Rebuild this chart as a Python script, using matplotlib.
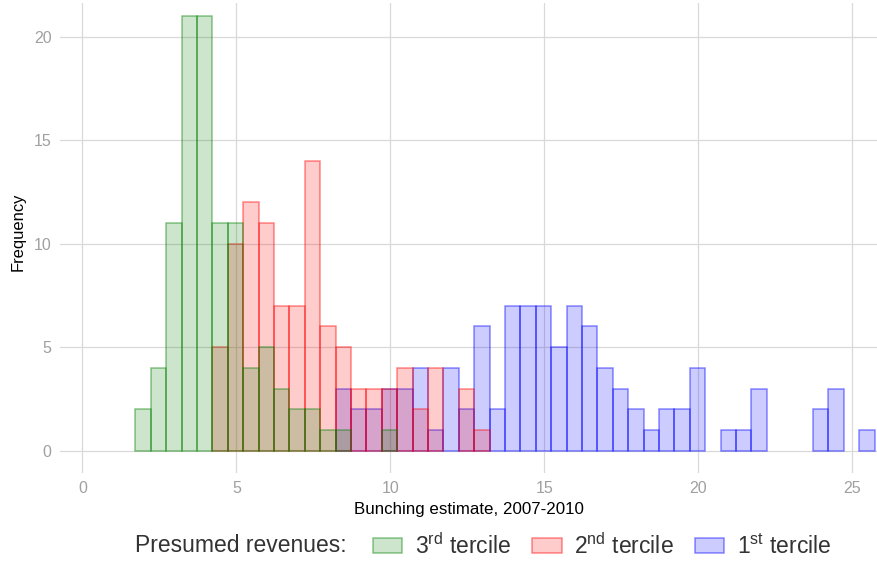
import numpy as np
import matplotlib
matplotlib.use('Agg')
import matplotlib.pyplot as plt
from matplotlib.patches import Patch
from matplotlib.colors import to_rgba

plt.rcParams['font.family'] = ['Liberation Sans', 'DejaVu Sans']
plt.rcParams['mathtext.fontset'] = 'custom'
plt.rcParams['mathtext.rm'] = 'Liberation Sans'

# histogram bins (width 0.5) and counts per bin for each tercile
bin_start = 1.72
bin_width = 0.5

# 3rd tercile (green), bins 0..16
counts_t3 = [2, 4, 11, 21, 21, 11, 11, 4, 5, 3, 2, 2, 1, 1, 0, 0, 1]
# 2nd tercile (red), bins 5..22
counts_t2 = [5, 10, 12, 11, 7, 7, 14, 6, 5, 3, 3, 3, 4, 2, 4, 0, 3, 1]
t2_first_bin = 5
# 1st tercile (blue), bins 13..47
counts_t1 = [3, 2, 2, 3, 3, 4, 1, 4, 2, 6, 2, 7, 7, 7, 5, 7, 6, 4, 3, 2,
             1, 2, 2, 4, 0, 1, 1, 3, 0, 0, 0, 2, 3, 0, 1]
t1_first_bin = 13

x_ticks = [0, 5, 10, 15, 20, 25]
y_ticks = [0, 5, 10, 15, 20]

series = [
    ('1$^{\\rm st}$ tercile', counts_t1, t1_first_bin, '#0000FF'),
    ('2$^{\\rm nd}$ tercile', counts_t2, t2_first_bin, '#FF0000'),
    ('3$^{\\rm rd}$ tercile', counts_t3, 0, '#008000'),
]

fig = plt.figure(figsize=(8.78, 5.63), dpi=100)
ax = fig.add_axes([60 / 878, 1 - 473 / 563, 818 / 878, 470 / 563])

ax.set_xlim(-0.727, 25.83)
ax.set_ylim(-1.08, 21.63)
ax.set_xticks(x_ticks)
ax.set_yticks(y_ticks)
ax.grid(True, color='#D9D9D9', linewidth=0.9)
ax.set_axisbelow(True)
for s in ax.spines.values():
    s.set_visible(False)
ax.tick_params(length=0, labelsize=11.5, labelcolor='#A0A0A0', pad=6)

handles = []
for label, counts, first, color in series:
    counts = np.array(counts)
    lefts = bin_start + bin_width * (first + np.arange(len(counts)))
    keep = counts > 0
    ax.bar(lefts[keep], counts[keep], width=bin_width, align='edge',
           facecolor=to_rgba(color, 0.2), edgecolor=to_rgba(color, 0.45),
           linewidth=1.1)
    handles.append(Patch(facecolor=to_rgba(color, 0.2),
                         edgecolor=to_rgba(color, 0.45), linewidth=1.1,
                         label=label))

ax.set_xlabel('Bunching estimate, 2007-2010', fontsize=12.2, labelpad=4)
ax.set_ylabel('Frequency', fontsize=11.9)
ax.yaxis.set_label_coords((26 - 60) / 818, (473 - 232) / 470)

fig.text(135 / 878, 1 - 546 / 563, 'Presumed revenues:', fontsize=16.5,
         color='#333333', ha='left', va='center')
fig.legend(handles=handles[::-1], loc='center', ncol=3, frameon=False,
           bbox_to_anchor=(602 / 878, 1 - 546 / 563), fontsize=16.5,
           handlelength=1.3, handleheight=0.6, handletextpad=0.55,
           columnspacing=0.9, labelcolor='#333333', borderaxespad=0)

fig.savefig('out.png', dpi=100)
